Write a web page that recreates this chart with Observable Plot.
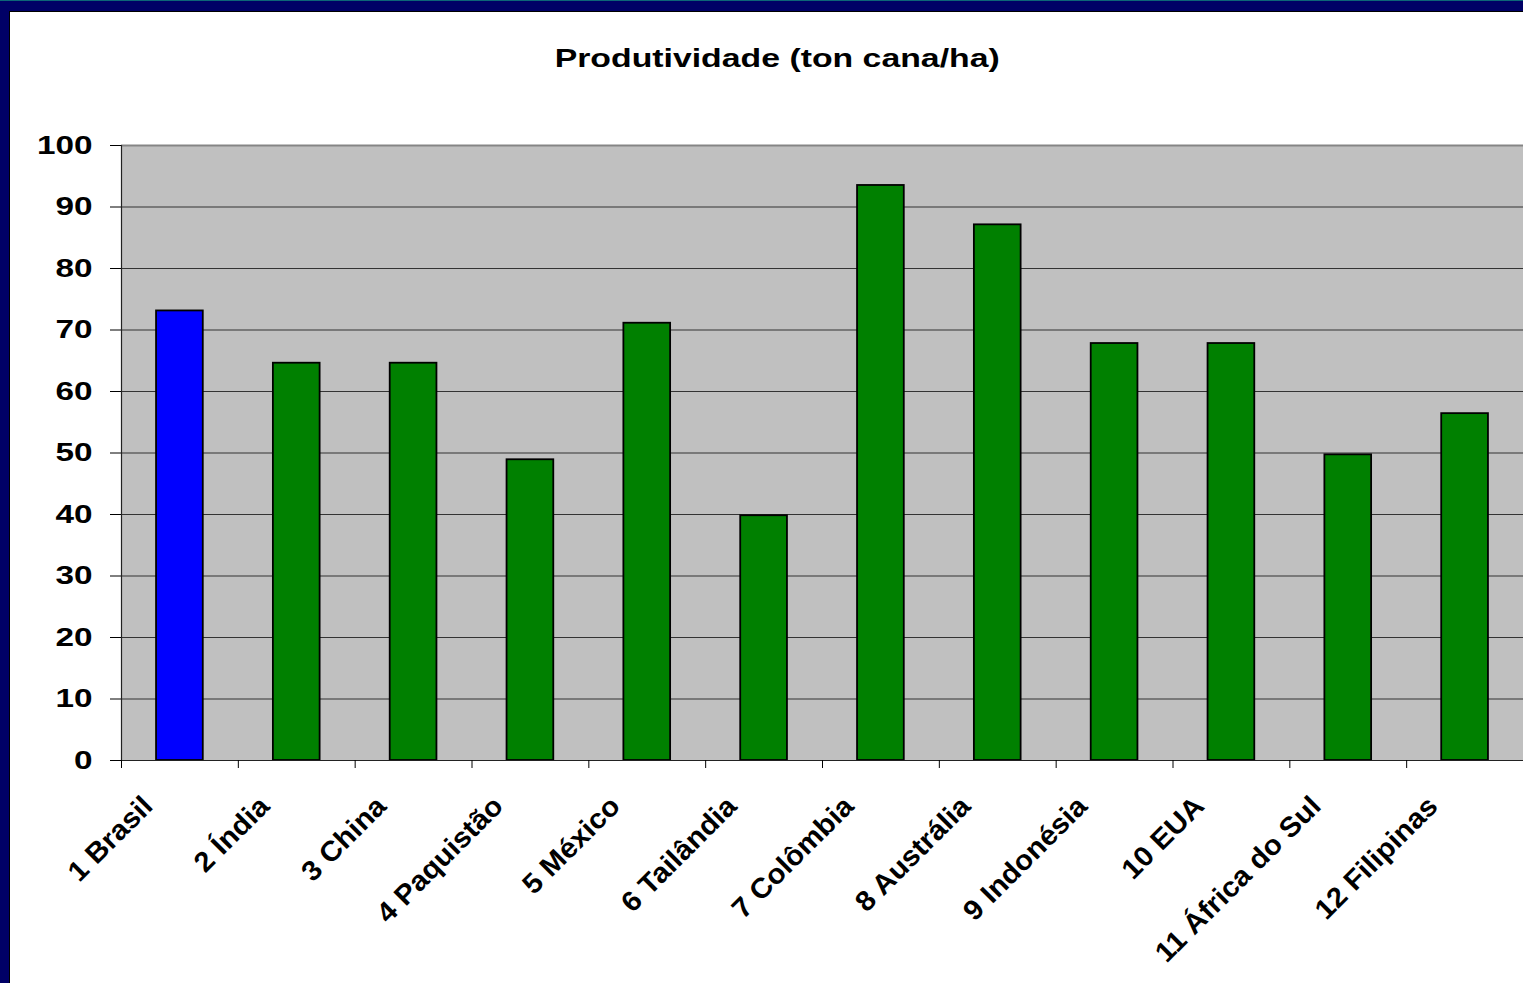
<!DOCTYPE html>
<html>
<head>
<meta charset="utf-8">
<script src="https://cdn.jsdelivr.net/npm/d3@7"></script>
<script src="https://cdn.jsdelivr.net/npm/@observablehq/plot@0.6"></script>
<style>
  html, body { margin: 0; padding: 0; }
  body {
    width: 1523px; height: 983px; overflow: hidden; position: relative;
    background: #000066;
    font-family: "Liberation Sans", Arial, sans-serif;
  }
  #topline { position: absolute; left: 0; top: 0; width: 100%; height: 1px; background: #0d6577; }
  #panel {
    position: absolute; left: 9px; top: 11px; right: 0; bottom: 0;
    background: #fff; border-left: 1px solid #000; border-top: 1px solid #000;
  }
  #header { height: 90px; position: relative; }
  #title {
    position: absolute; left: 0; top: 33px; width: 1535px;
    text-align: center; font-size: 26px; line-height: 26px; font-weight: bold; color: #000;
  }
  #title span { display: inline-block; transform: scaleX(1.3); }
  svg { display: block; }
</style>
</head>
<body>
<div id="topline"></div>
<div id="panel">
  <div id="header"><div id="title"><span>Produtividade (ton cana/ha)</span></div></div>
  <div id="chart"></div>
</div>
<script>
// Sugarcane yield by country, tonnes of cane per hectare
const countries = [
  "1 Brasil", "2 Índia", "3 China", "4 Paquistão", "5 México", "6 Tailândia",
  "7 Colômbia", "8 Austrália", "9 Indonésia", "10 EUA", "11 África do Sul", "12 Filipinas"
];
const yieldValues = [73.1, 64.6, 64.6, 48.9, 71.1, 39.8, 93.5, 87.1, 67.8, 67.8, 49.7, 56.4];
const yTicks = [0, 10, 20, 30, 40, 50, 60, 70, 80, 90, 100];
const highlighted = "1 Brasil";

const data = countries.map((country, i) => ({country, value: yieldValues[i]}));

const width = 1513, height = 881;
const marginLeft = 111, marginRight = 0, marginTop = 43, marginBottom = 223;
const step = (width - marginLeft - marginRight) / countries.length;

const chart = Plot.plot({
  width, height, marginLeft, marginRight, marginTop, marginBottom,
  style: {background: "transparent", color: "#000", fontFamily: '"Liberation Sans", Arial, sans-serif', overflow: "visible"},
  x: {domain: countries, paddingInner: 0.6, paddingOuter: 0.3, round: false, axis: null},
  y: {domain: [0, d3.max(yTicks)], axis: null},
  marks: [
    Plot.frame({fill: "#c0c0c0", stroke: null}),
    Plot.ruleY(yTicks.slice(1, -1), {stroke: "#333", strokeWidth: 1}),
    Plot.ruleY([d3.max(yTicks)], {stroke: "#858585", strokeWidth: 2}),
    Plot.barY(data, {
      x: "country", y: "value",
      fill: d => d.country === highlighted ? "#0000ff" : "#008000",
      stroke: "#000", strokeWidth: 1.8
    }),
    Plot.ruleY([0], {stroke: "#222", strokeWidth: 1.2}),
    Plot.frame({anchor: "left", stroke: "#222", strokeWidth: 1.2}),
    Plot.axisY(yTicks, {anchor: "left", label: null, tickSize: 11, tickPadding: 18, stroke: "#000", fontSize: 26, fontWeight: "bold"}),
    Plot.axisX({label: null, tickSize: 8, tickFormat: () => "", dx: -step / 2, stroke: "#000"}),
    Plot.axisX({label: null, tickSize: 0, tickPadding: 0, tickRotate: -45, dx: -32, dy: 41, fontSize: 28, fontWeight: "bold"})
  ]
});

document.getElementById("chart").append(chart);

// Widen the bold labels horizontally along their baselines
function widen(selector, factor) {
  d3.select(chart).selectAll(selector).each(function () {
    const len = this.getComputedTextLength();
    if (len > 0) {
      this.setAttribute("textLength", len * factor);
      this.setAttribute("lengthAdjust", "spacingAndGlyphs");
    }
  });
}
widen('g[aria-label="y-axis tick label"] text', 1.28);
widen('g[aria-label="x-axis tick label"] text', 1.05);
</script>
</body>
</html>
